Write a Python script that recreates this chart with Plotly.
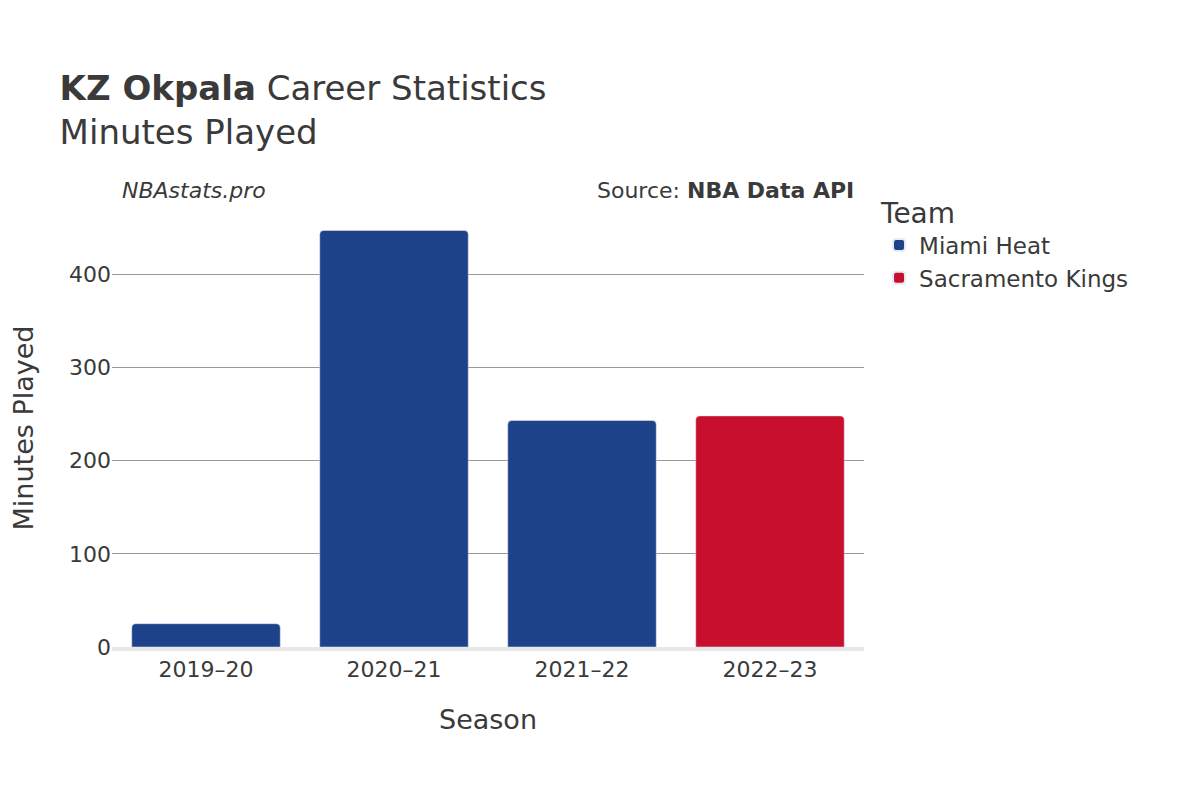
import plotly.graph_objects as go

seasons = ["2019–20", "2020–21", "2021–22", "2022–23"]
teams = ["Miami Heat", "Miami Heat", "Miami Heat", "Sacramento Kings"]
minutes = [25, 447, 243, 248]
team_colors = {"Miami Heat": "#1d428a", "Sacramento Kings": "#c8102e"}

fig = go.Figure()
for team in ["Miami Heat", "Sacramento Kings"]:
    xs = [s for s, t in zip(seasons, teams) if t == team]
    ys = [m for m, t in zip(minutes, teams) if t == team]
    fig.add_trace(go.Bar(x=xs, y=ys, name=team, marker_color=team_colors[team],
                         marker_cornerradius=4, width=0.79))

fig.update_layout(
    width=1200, height=800, plot_bgcolor="white", paper_bgcolor="white",
    font=dict(family="DejaVu Sans", size=20, color="#3a3a3a"),
    title=dict(text="<b>KZ Okpala</b> Career Statistics<br>Minutes Played",
               x=0.043, xanchor="left", y=0.885, yanchor="top", font=dict(size=34)),
    margin=dict(l=100, r=344, t=201, b=161),
    barmode="group",
    legend=dict(title=dict(text="Team", font=dict(size=28)), x=1.02, y=1.05,
                yanchor="top", font=dict(size=23), itemsizing="constant",
                tracegroupgap=12),
    xaxis=dict(title=dict(text="Season", font=dict(size=27), standoff=30),
               categoryorder="array",
               categoryarray=seasons, showline=True, linecolor="#e8e8e8", linewidth=4,
               tickfont=dict(size=22)),
    yaxis=dict(title=dict(text="Minutes Played", font=dict(size=27), standoff=30),
               range=[0, 470],
               tickvals=[0, 100, 200, 300, 400], gridcolor="#999999", gridwidth=1,
               zeroline=False, tickfont=dict(size=22)),
    annotations=[
        dict(text="<i>NBAstats.pro</i>", x=0.01, y=1.01, xref="paper", yref="paper",
             xanchor="left", yanchor="bottom", showarrow=False, font=dict(size=22)),
        dict(text="Source: <b>NBA Data API</b>", x=0.99, y=1.01, xref="paper", yref="paper",
             xanchor="right", yanchor="bottom", showarrow=False, font=dict(size=22)),
    ],
)
fig.write_html("out.html")
